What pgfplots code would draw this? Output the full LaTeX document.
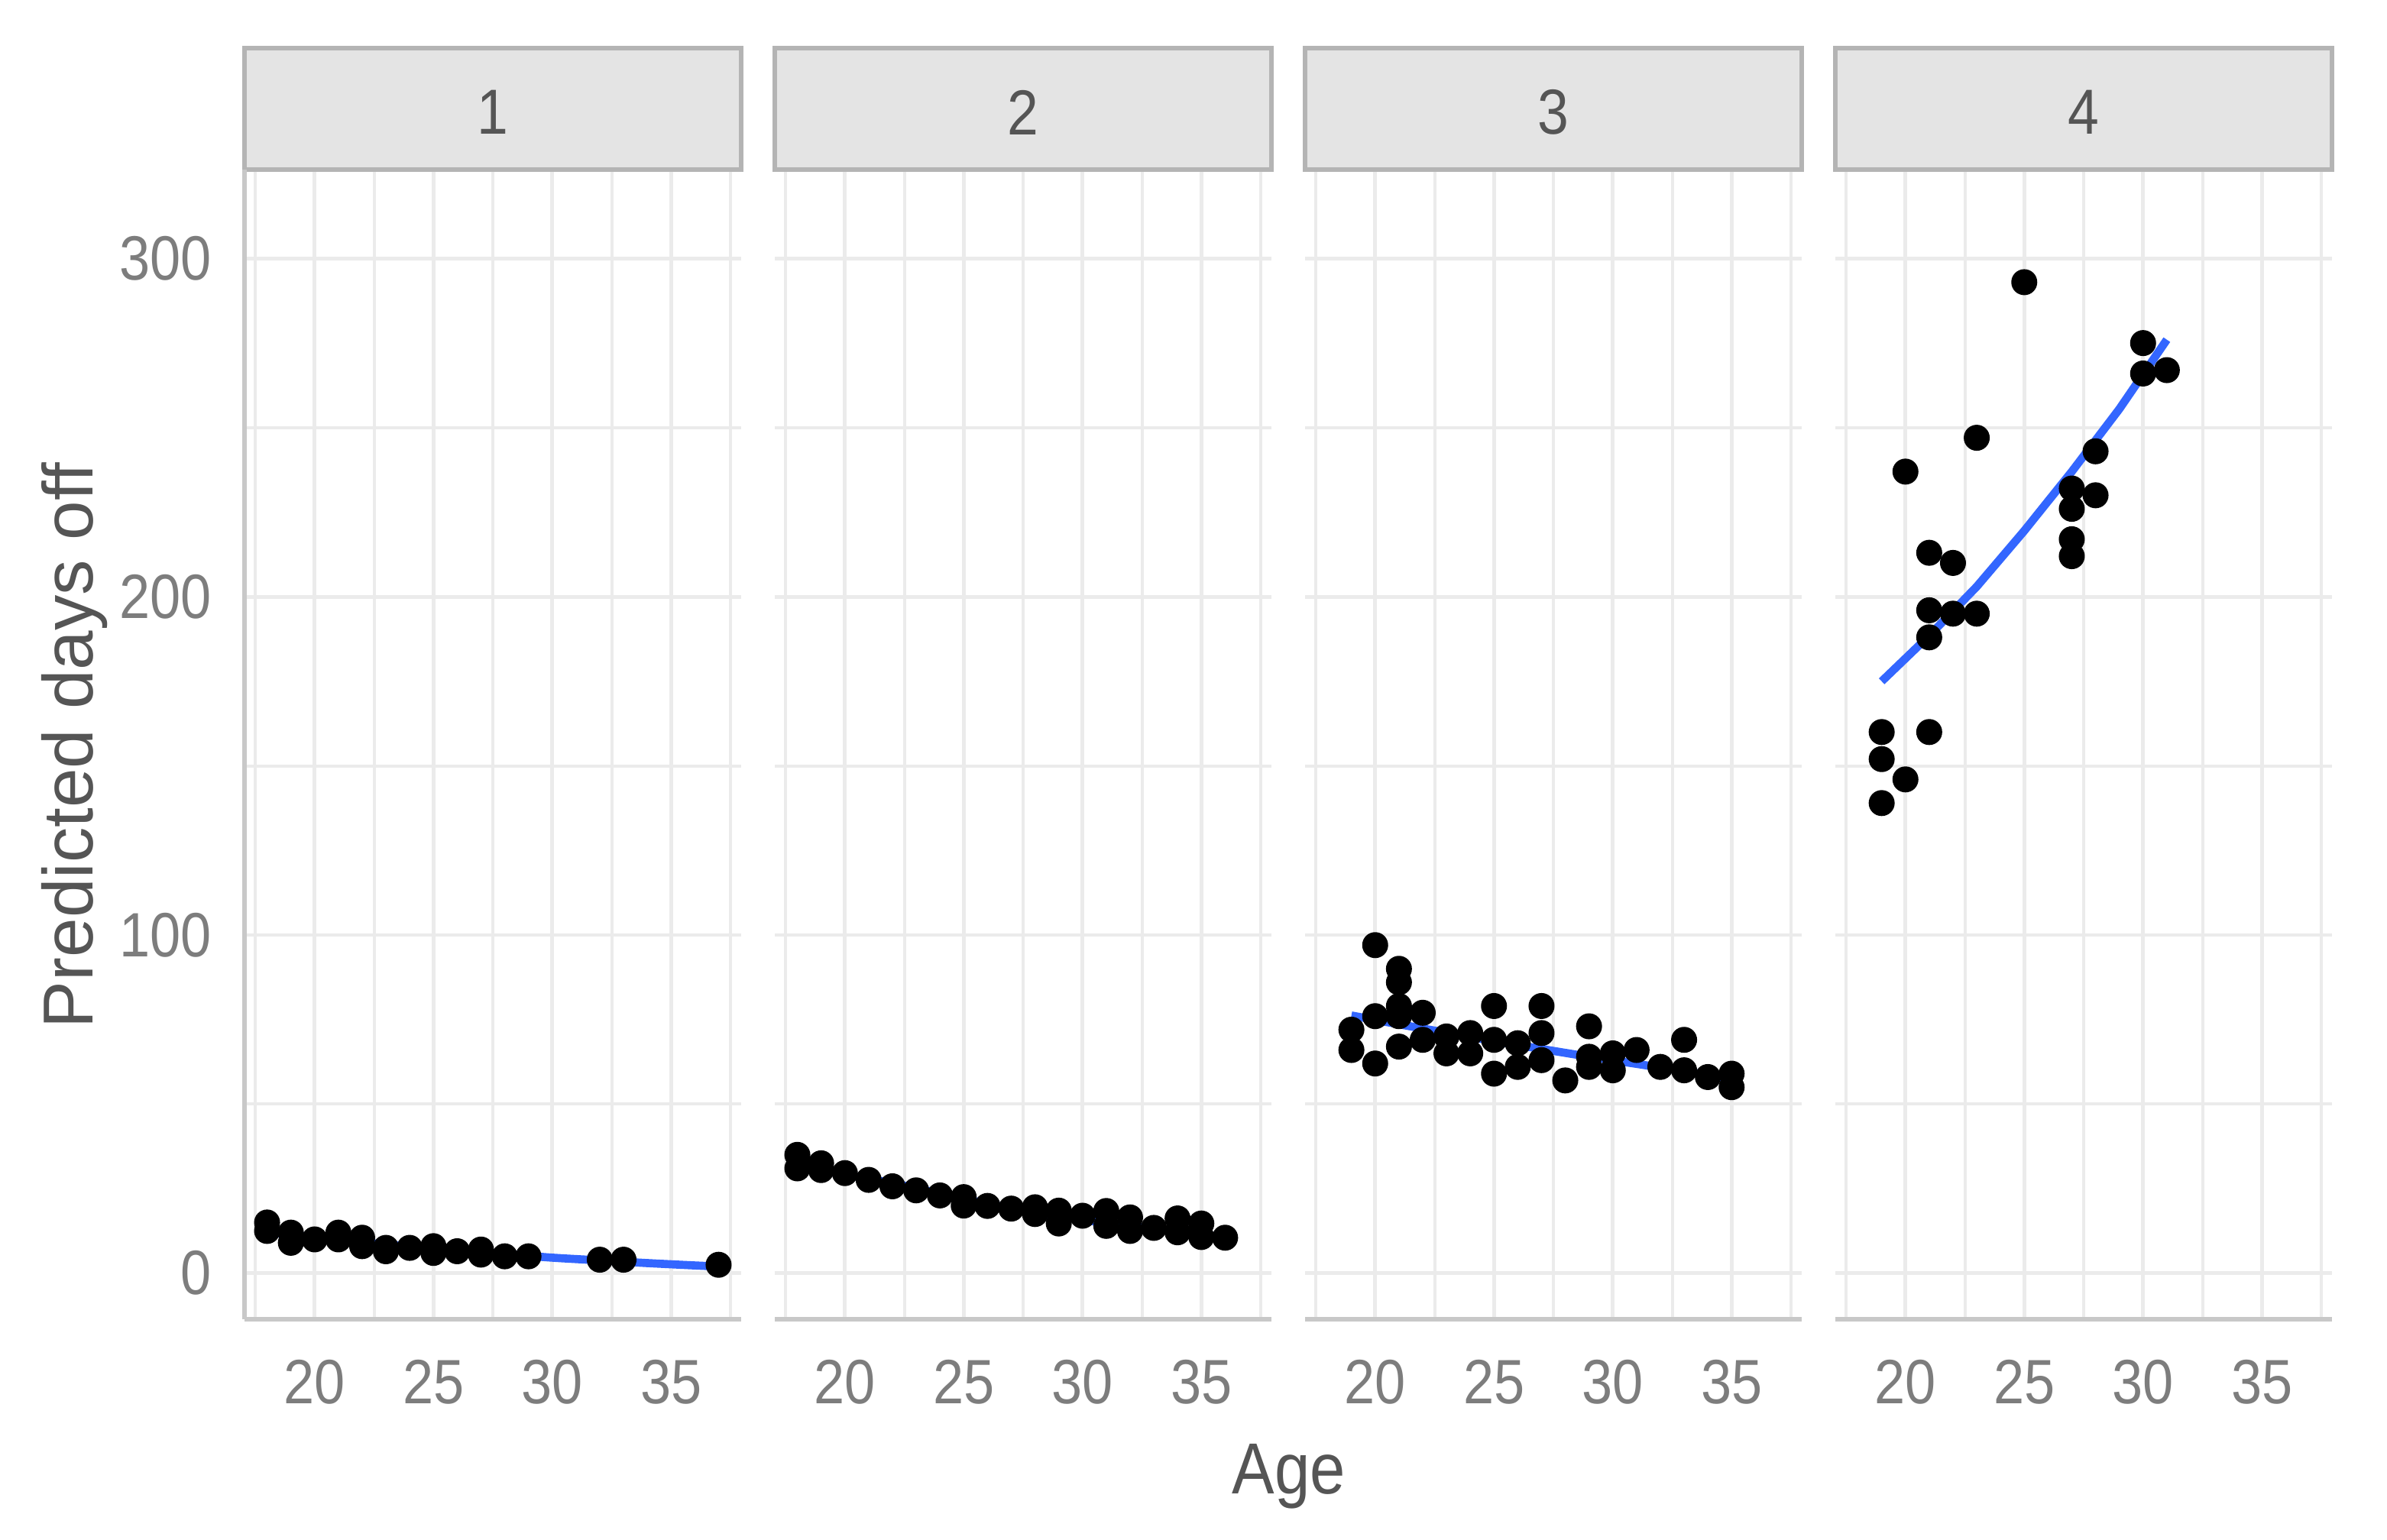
\documentclass[border=0pt]{standalone}
\usepackage{pgfplots}
\pgfplotsset{compat=1.18}
\usepackage{fontspec}
\setmainfont{Liberation Sans}[FakeStretch=0.88]
\newfontfamily\ylabfont{Liberation Sans}
\definecolor{gridc}{RGB}{235,235,235}
\definecolor{stripfill}{RGB}{228,228,228}
\definecolor{stripdraw}{RGB}{180,180,180}
\definecolor{tickc}{RGB}{125,125,125}
\definecolor{titlec}{RGB}{85,85,85}
\definecolor{axisc}{RGB}{200,200,200}
\definecolor{lineblue}{RGB}{51,102,255}
\pgfplotsset{panel/.style={
  scale only axis, width=97.5pt, height=225.75pt,
  xmin=17.05, xmax=37.95, ymin=-13.6, ymax=326.3,
  xtick={20,25,30,35}, minor xtick={17.5,22.5,27.5,32.5,37.5},
  ytick={0,100,200,300}, minor ytick={50,150,250},
  grid=both,
  major grid style={draw=gridc, line width=0.7pt},
  minor grid style={draw=gridc, line width=0.6pt},
  axis line style={draw=none}, major tick length=0pt, minor tick length=0pt,
  /pgf/number format/assume math mode=true,
  tick label style={font=\fontsize{12.3}{14}\selectfont, text=tickc},
  xticklabel style={yshift=-4.4pt},
  yticklabel style={xshift=-3pt},
  anchor=south west, clip=false,
}}
\tikzset{pts/.style={only marks, mark=*, mark size=2.35pt, draw=black, fill=black},
         fit/.style={no markers, draw=lineblue, line width=1.6pt}}
\newcommand{\strip}[1]{%
  \draw[stripdraw, fill=stripfill, line width=0.8pt] (rel axis cs:0,1) rectangle ([yshift=23.85pt]rel axis cs:1,1);
  \node[text=titlec, font=\fontsize{12.5}{14}\selectfont] at ([yshift=11.2pt]rel axis cs:0.5,1) {#1};
  \draw[axisc, line width=0.8pt] (rel axis cs:0,0) -- (rel axis cs:1,0);
}
\begin{document}
\begin{tikzpicture}
\path[use as bounding box] (0,0) rectangle (468.6pt,302.4pt);
% Panel 1
\begin{axis}[panel, at={(48pt,43.35pt)}]
\addplot[pts] coordinates {(18,15) (18,12.5) (19,12) (19,9) (20,10) (21,12) (21,10) (22,10.5) (22,8) (23,7.5) (23,6.5) (24,7.5) (25,8) (25,6) (26,6.5) (27,7) (27,5.5) (28,5) (29,5) (32,4) (33,4) (37,2.5)};
\addplot[fit, smooth] coordinates {(18,12.2) (20,10.6) (22,9.1) (24,7.9) (26,6.8) (28,5.7) (30,4.6) (32,3.8) (34,3.0) (36,2.3) (37,2.0)};
\strip{1}
\draw[axisc, line width=0.8pt] (rel axis cs:0,0) -- (rel axis cs:0,1);
\end{axis}
% Panel 2
\begin{axis}[panel, at={(152.1pt,43.35pt)}, yticklabels={}]
\addplot[pts] coordinates {(18,35) (18,31) (19,32.5) (19,30.5) (20,29.6) (21,27.6) (22,25.7) (23,24.5) (24,23) (25,22.5) (25,20) (26,19.9) (27,19.1) (28,19.5) (28,17.5) (29,18.5) (29,14.7) (30,17) (31,18.4) (31,14) (32,16.5) (32,12.5) (33,13.4) (34,16.2) (34,12.1) (35,14.7) (35,10.7) (36,10.5)};
\addplot[fit, smooth] coordinates {(18,31.6) (20,29.2) (22,26.6) (24,23.6) (26,20.5) (28,18.0) (30,15.8) (32,14.0) (34,12.3) (36,10.6)};
\strip{2}
\end{axis}
% Panel 3
\begin{axis}[panel, at={(256.2pt,43.35pt)}, yticklabels={}]
\addplot[pts] coordinates {(19,72) (19,66) (20,97) (20,76) (20,62) (21,90) (21,86) (21,79) (21,76) (21,67) (22,77) (22,69) (23,70) (23,65) (24,71) (24,65) (25,79) (25,69) (25,59) (26,68) (26,61) (27,79) (27,71) (27,63) (28,57) (29,73) (29,64) (29,61) (30,65) (30,60) (31,66) (32,61) (33,69) (33,60) (34,58) (35,59) (35,55)};
\addplot[fit] coordinates {(19,76.2) (21,73.6) (23,71.1) (25,68.6) (27,66.3) (29,64.0) (31,61.9) (33,59.7) (35,57.6)};
\strip{3}
\end{axis}
% Panel 4
\begin{axis}[panel, at={(360.3pt,43.35pt)}, yticklabels={}]
\addplot[pts] coordinates {(19,160) (19,152) (19,139) (20,237) (20,146) (21,213) (21,196) (21,188) (21,160) (22,210) (22,195) (23,247) (23,195) (25,293) (27,232) (27,226) (27,217) (27,212) (28,243) (28,230) (30,275) (30,266) (31,267)};
\addplot[fit] coordinates {(19,175) (21,188.5) (23,203) (25,219.5) (27,237) (29,255.5) (31,276)};
\strip{4}
\end{axis}
\node[anchor=base, text=titlec, font=\fontsize{14.2}{16}\selectfont] at (253pt,9pt) {Age};
\node[anchor=base, rotate=90, text=titlec, font=\ylabfont\fontsize{13.9}{16}\selectfont] at (18.2pt,156pt) {Predicted days off};
\end{tikzpicture}
\end{document}
